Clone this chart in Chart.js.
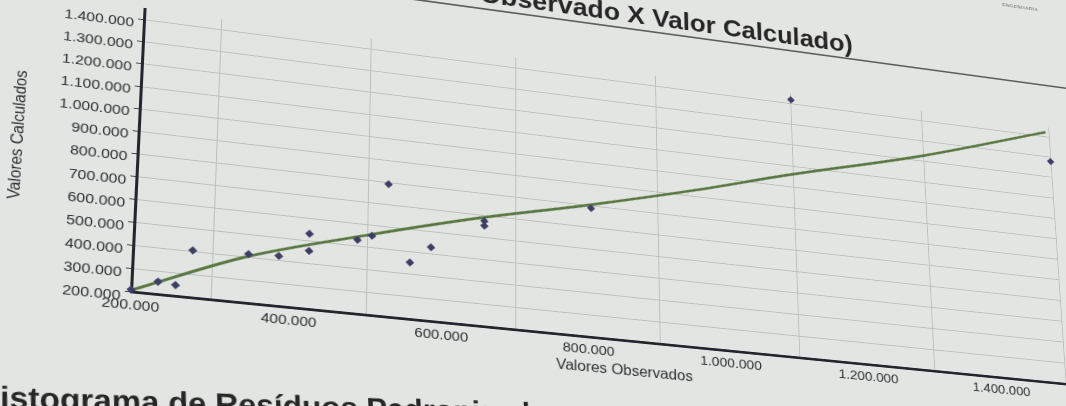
<!DOCTYPE html>
<html lang="pt-BR">
<head>
<meta charset="utf-8">
<title>Gráfico de Aderência</title>
<script src="https://cdn.jsdelivr.net/npm/chart.js@4.4.1/dist/chart.umd.min.js"></script>
<style>
  html, body {
    margin: 0;
    padding: 0;
    width: 1066px;
    height: 406px;
    overflow: hidden;
    background: #e3e5e2;
    font-family: "Liberation Sans", Arial, sans-serif;
  }
  /* folha inteira, depois inclinada como na foto */
  #folha {
    position: absolute;
    left: 0;
    top: 0;
    width: 1200px;
    height: 500px;
    transform-origin: 0 0;
  }
  #area {
    position: absolute;
    left: -17px;
    top: -30px;
    width: 1159px;
    height: 370px;
  }
  #titulo {
    position: absolute;
    left: -1000px;
    width: 1896px;
    top: -112px;
    height: 42px;
    line-height: 48px;
    text-align: right;
    font-weight: bold;
    font-size: 30px;
    color: #262626;
    white-space: nowrap;
  }
  #linha {
    position: absolute;
    left: -400px;
    width: 1800px;
    top: -71px;
    height: 2px;
    background: #5d5f5d;
  }
  #cabecalho {
    position: absolute;
    left: 1084px;
    top: -170px;
    font-size: 6px;
    font-weight: bold;
    letter-spacing: 0.5px;
    color: #8a8c8a;
  }
  #subtitulo {
    position: absolute;
    left: -25px;
    top: 402px;
    font-size: 31.5px;
    font-weight: bold;
    color: #262626;
    white-space: nowrap;
    transform-origin: 0 0;
    transform: rotate(-3.5deg);
  }
</style>
</head>
<body>
<div id="folha">
  <div id="cabecalho">ENGENHARIA</div>
  <div id="titulo">Gráfico de Aderência (Valor Observado X Valor Calculado)</div>
  <div id="linha"></div>
  <div id="area"><canvas id="grafico" width="1159" height="370"></canvas></div>
  <div id="subtitulo">Histograma de Resíduos Padronizados</div>
</div>
<script>
// Pontos (valor observado x valor calculado)
const observados = [200000, 233000, 255000, 275000, 346000, 385000, 424000, 424000, 487000,
  506000, 527000, 557000, 585000, 657000, 657000, 805000, 1100000, 1500000];
const calculados = [210000, 255000, 248000, 405000, 414000, 420000, 532000, 456000, 528000,
  552000, 792000, 452000, 530000, 674000, 652000, 788000, 1420000, 1280000];

// Curva ajustada (linha verde)
const observadosAjuste = [200000, 342000, 500000, 651000, 800000, 956000, 1090000, 1300000, 1495000];
const calculadosAjuste = [208000, 400000, 553000, 686000, 800000, 930000, 1052000, 1230000, 1425000];

// Rótulos dos eixos
const rotulosX = [200000, 400000, 600000, 800000, 1000000, 1200000, 1400000];
const rotulosY = [200000, 300000, 400000, 500000, 600000, 700000, 800000, 900000,
  1000000, 1100000, 1200000, 1300000, 1400000];

// Onde os cantos do gráfico aparecem na foto (calibração da inclinação)
const cantosFoto = [[131, 292], [144, 20], [800, 358], [791, 104]];

function formatar(v) {
  return String(Math.round(v)).replace(/\B(?=(\d{3})+(?!\d))/g, '.');
}

function temRotulo(lista, v) {
  return lista.some((r) => Math.abs(r - v) < 1);
}

const corTexto = '#2e2f33';
const corGrade = '#bcbebb';
const corEixo = '#24262f';
const fonte = '"Liberation Sans", Arial';

const grafico = new Chart(document.getElementById('grafico'), {
  type: 'scatter',
  data: {
    datasets: [{
      label: 'Valores',
      data: observados.map((x, i) => ({ x: x, y: calculados[i] })),
      pointStyle: 'rectRot',
      pointRadius: 4.5,
      backgroundColor: '#3b3f66',
      borderColor: '#3b3f66',
      borderWidth: 0,
      clip: false,
      order: 1
    }, {
      type: 'line',
      label: 'Ajuste',
      data: observadosAjuste.map((x, i) => ({ x: x, y: calculadosAjuste[i] })),
      borderColor: '#56773f',
      borderWidth: 3,
      pointRadius: 0,
      cubicInterpolationMode: 'monotone',
      fill: false,
      order: 2
    }]
  },
  options: {
    responsive: false,
    animation: false,
    devicePixelRatio: 1,
    layout: { padding: { top: 10, right: 10, left: 4, bottom: 0 } },
    events: [],
    plugins: {
      legend: { display: false },
      tooltip: { enabled: false }
    },
    scales: {
      x: {
        type: 'linear',
        min: 200000,
        max: 1500000,
        afterFit: (escala) => { escala.height = 43.4; },
        ticks: {
          stepSize: 100000,
          autoSkip: false,
          maxRotation: 0,
          includeBounds: false,
          padding: 5,
          color: corTexto,
          font: { family: fonte, size: 15.5 },
          callback: (v) => temRotulo(rotulosX, v) ? formatar(v) : ''
        },
        grid: {
          drawTicks: false,
          color: (ctx) => (ctx.tick && temRotulo(rotulosX, ctx.tick.value)) ? 'rgba(0,0,0,0)' : corGrade,
          lineWidth: 1
        },
        border: { color: corEixo, width: 3 },
        title: {
          display: true,
          text: 'Valores Observados',
          color: corTexto,
          padding: { top: 0, bottom: 0 },
          font: { family: fonte, size: 16.5 }
        }
      },
      y: {
        type: 'linear',
        min: 200000,
        max: 1450000,
        afterBuildTicks: (escala) => {
          escala.ticks = rotulosY.map((v) => ({ value: v }));
        },
        afterFit: (escala) => { escala.width = 130; },
        ticks: {
          autoSkip: false,
          padding: 4,
          labelOffset: 5,
          color: corTexto,
          font: { family: fonte, size: 15.5 },
          callback: (v) => formatar(v)
        },
        grid: {
          color: corGrade,
          lineWidth: 1,
          tickLength: 6,
          tickColor: '#3a3c44'
        },
        border: { color: corEixo, width: 3 },
        title: {
          display: true,
          text: 'Valores Calculados',
          color: corTexto,
          padding: { top: 4, bottom: 30 },
          font: { family: fonte, size: 16.5 }
        }
      }
    }
  }
});

// Resolve o sistema linear (eliminação de Gauss)
function resolverSistema(m, v) {
  const n = v.length;
  for (let i = 0; i < n; i++) m[i].push(v[i]);
  for (let c = 0; c < n; c++) {
    let p = c;
    for (let r = c + 1; r < n; r++) {
      if (Math.abs(m[r][c]) > Math.abs(m[p][c])) p = r;
    }
    [m[c], m[p]] = [m[p], m[c]];
    for (let r = 0; r < n; r++) {
      if (r === c) continue;
      const f = m[r][c] / m[c][c];
      for (let k = c; k <= n; k++) m[r][k] -= f * m[c][k];
    }
  }
  return m.map((fila, i) => fila[n] / fila[i]);
}

// Inclina a folha para ficar parecida com a foto
function inclinarFolha() {
  const area = document.getElementById('area');
  const ox = area.offsetLeft;
  const oy = area.offsetTop;
  const sx = grafico.scales.x;
  const sy = grafico.scales.y;
  const origem = [
    [sx.getPixelForValue(200000) + ox, sy.getPixelForValue(200000) + oy],
    [sx.getPixelForValue(200000) + ox, sy.getPixelForValue(1400000) + oy],
    [sx.getPixelForValue(1100000) + ox, sy.getPixelForValue(200000) + oy],
    [sx.getPixelForValue(1100000) + ox, sy.getPixelForValue(1400000) + oy]
  ];
  const m = [];
  const v = [];
  for (let i = 0; i < 4; i++) {
    const [x, y] = origem[i];
    const [u, w] = cantosFoto[i];
    m.push([x, y, 1, 0, 0, 0, -u * x, -u * y]);
    v.push(u);
    m.push([0, 0, 0, x, y, 1, -w * x, -w * y]);
    v.push(w);
  }
  const h = resolverSistema(m, v);
  document.getElementById('folha').style.transform =
    'matrix3d(' + [h[0], h[3], 0, h[6], h[1], h[4], 0, h[7], 0, 0, 1, 0, h[2], h[5], 0, 1].join(',') + ')';
}

inclinarFolha();
</script>
</body>
</html>
